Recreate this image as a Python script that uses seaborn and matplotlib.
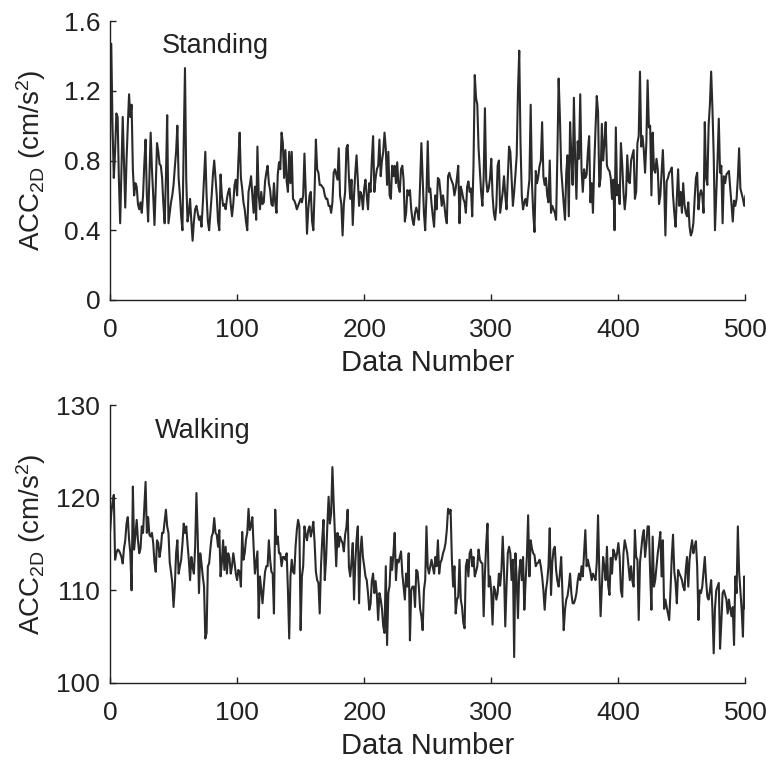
import numpy as np
import matplotlib
matplotlib.use("Agg")
import matplotlib.pyplot as plt
import seaborn as sns

# values, data number 0..500
standing_acc = [
    0.90, 1.47, 0.99, 0.70, 0.85, 1.07, 1.05, 0.69, 0.44, 0.75,
    1.05, 0.80, 0.53, 0.80, 1.00, 1.18, 1.05, 1.12, 0.75, 0.60,
    0.67, 0.65, 0.55, 0.52, 0.56, 0.50, 0.60, 0.78, 0.92, 0.60,
    0.45, 0.70, 0.96, 0.75, 0.60, 0.43, 0.65, 0.90, 0.85, 0.78,
    0.77, 0.70, 0.55, 0.44, 0.70, 1.06, 0.44, 0.50, 0.56, 0.60,
    0.66, 0.76, 0.85, 1.00, 0.70, 0.60, 0.48, 0.40, 0.90, 1.33,
    0.69, 0.45, 0.50, 0.58, 0.45, 0.34, 0.45, 0.52, 0.54, 0.50,
    0.46, 0.48, 0.42, 0.55, 0.70, 0.85, 0.60, 0.45, 0.40, 0.50,
    0.60, 0.72, 0.80, 0.70, 0.60, 0.45, 0.40, 0.72, 0.60, 0.54,
    0.55, 0.52, 0.58, 0.62, 0.64, 0.55, 0.48, 0.55, 0.66, 0.69,
    0.60, 0.80, 0.96, 0.70, 0.64, 0.56, 0.52, 0.45, 0.40, 0.62,
    0.66, 0.71, 0.60, 0.50, 0.65, 0.46, 0.88, 0.60, 0.52, 0.62,
    0.55, 0.56, 0.68, 0.73, 0.77, 0.67, 0.63, 0.55, 0.54, 0.67,
    0.56, 0.50, 0.72, 0.79, 0.75, 0.96, 0.90, 0.70, 0.86, 0.68,
    0.62, 0.85, 0.67, 0.85, 0.58, 0.57, 0.55, 0.52, 0.54, 0.56,
    0.58, 0.56, 0.60, 0.84, 0.62, 0.38, 0.52, 0.60, 0.62, 0.45,
    0.40, 0.63, 0.92, 0.75, 0.73, 0.66, 0.66, 0.65, 0.64, 0.60,
    0.58, 0.58, 0.54, 0.54, 0.50, 0.56, 0.73, 0.75, 0.72, 0.69,
    0.87, 0.60, 0.55, 0.37, 0.55, 0.62, 0.87, 0.89, 0.70, 0.58,
    0.69, 0.43, 0.60, 0.73, 0.83, 0.69, 0.54, 0.62, 0.60, 0.52,
    0.64, 0.69, 0.60, 0.52, 0.67, 0.62, 0.80, 0.94, 0.62, 0.70,
    0.75, 0.77, 0.92, 0.71, 0.80, 0.85, 0.96, 0.87, 0.66, 0.85,
    0.60, 0.58, 0.77, 0.71, 0.77, 0.67, 0.79, 0.65, 0.62, 0.75,
    0.77, 0.69, 0.45, 0.50, 0.63, 0.60, 0.63, 0.52, 0.46, 0.43,
    0.50, 0.53, 0.50, 0.46, 0.67, 0.90, 0.70, 0.50, 0.40, 0.60,
    0.91, 0.62, 0.64, 0.55, 0.48, 0.42, 0.60, 0.52, 0.70, 0.69,
    0.62, 0.54, 0.60, 0.55, 0.48, 0.44, 0.71, 0.73, 0.70, 0.68,
    0.66, 0.60, 0.64, 0.70, 0.77, 0.44, 0.65, 0.62, 0.58, 0.56,
    0.50, 0.65, 0.68, 0.62, 0.64, 0.48, 0.77, 1.29, 1.16, 1.12,
    0.87, 0.75, 0.62, 0.54, 0.70, 1.10, 0.69, 0.62, 0.64, 0.70,
    0.81, 0.60, 0.50, 0.46, 0.54, 0.77, 0.80, 0.50, 0.56, 0.62,
    0.71, 0.60, 0.52, 0.70, 0.88, 0.85, 0.70, 0.54, 0.62, 0.72,
    0.83, 1.20, 1.43, 0.90, 0.60, 0.52, 0.56, 0.58, 0.54, 0.62,
    0.69, 1.12, 0.67, 0.50, 0.39, 0.74, 0.67, 0.71, 0.77, 0.80,
    1.02, 0.71, 0.66, 0.70, 0.60, 0.56, 0.80, 0.50, 0.54, 0.52,
    0.50, 0.46, 0.83, 1.27, 1.05, 0.75, 0.65, 0.55, 0.46, 0.73,
    0.83, 0.48, 1.02, 0.83, 0.66, 1.16, 0.80, 0.58, 0.91, 0.81,
    1.18, 0.75, 0.62, 0.75, 0.70, 0.72, 0.85, 0.94, 0.56, 0.67,
    0.50, 0.77, 0.98, 1.17, 1.08, 0.65, 0.70, 1.01, 0.80, 0.90,
    1.02, 0.77, 0.75, 0.74, 0.70, 0.58, 0.69, 0.40, 0.99, 0.60,
    0.66, 0.55, 0.90, 0.78, 0.62, 0.52, 0.60, 0.83, 0.68, 0.67,
    0.80, 0.83, 0.86, 0.58, 0.62, 0.90, 0.94, 1.31, 0.88, 0.94,
    0.86, 0.73, 0.90, 1.26, 0.99, 1.00, 0.60, 0.96, 0.75, 0.73,
    0.81, 0.75, 0.55, 0.60, 0.73, 0.86, 0.67, 0.37, 0.68, 0.70,
    0.73, 0.74, 0.76, 0.60, 0.50, 0.42, 0.58, 0.75, 0.54, 0.62,
    0.50, 0.67, 0.55, 0.50, 0.48, 0.56, 0.42, 0.37, 0.39, 0.44,
    0.58, 0.70, 0.73, 0.52, 0.60, 0.63, 0.60, 0.50, 1.02, 0.70,
    0.66, 1.00, 1.12, 1.31, 1.10, 0.83, 0.40, 0.60, 0.80, 1.04,
    0.73, 0.77, 0.44, 0.71, 0.67, 0.72, 0.73, 0.74, 0.64, 0.55,
    0.45, 0.57, 0.54, 0.58, 0.70, 0.87, 0.64, 0.61, 0.58, 0.54, 0.60,
]

walking_acc = [
    116.2, 118.3, 119.5, 120.3, 113.3, 114.0, 114.4, 114.3, 114.0, 113.6,
    112.9, 114.5, 115.4, 117.2, 117.9, 115.5, 114.0, 110.0, 121.2, 114.4,
    116.0, 117.6, 115.4, 114.0, 114.5, 116.9, 116.2, 119.0, 121.7, 116.2,
    117.9, 116.0, 115.8, 116.2, 115.1, 113.0, 112.0, 115.4, 115.1, 113.6,
    114.5, 116.2, 116.2, 117.5, 118.7, 116.9, 116.2, 113.0, 112.0, 110.8,
    108.2, 110.4, 114.0, 115.4, 111.8, 112.6, 113.3, 115.0, 117.2, 116.2,
    116.9, 115.0, 113.3, 111.1, 113.6, 112.5, 111.8, 114.7, 120.5, 116.0,
    109.7, 114.0, 112.9, 111.5, 110.4, 104.8, 105.4, 112.6, 112.9, 114.5,
    115.8, 116.2, 117.8, 116.2, 116.0, 114.7, 116.5, 111.5, 113.0, 115.4,
    112.2, 114.7, 111.8, 114.0, 113.5, 111.8, 112.6, 114.0, 113.0, 111.8,
    111.1, 112.2, 112.0, 110.4, 116.3, 113.3, 114.0, 115.5, 116.2, 118.8,
    116.5, 117.0, 117.9, 114.7, 111.8, 113.0, 114.2, 107.0, 111.5, 110.0,
    108.6, 110.4, 112.0, 112.6, 112.6, 115.4, 113.3, 112.0, 111.8, 107.5,
    118.7, 115.0, 115.8, 114.0, 114.0, 112.6, 113.6, 113.6, 113.3, 114.0,
    110.0, 104.8, 111.5, 113.3, 112.0, 111.8, 114.7, 116.5, 117.6, 116.9,
    105.7, 111.5, 112.6, 116.9, 116.0, 115.4, 116.5, 116.9, 115.8, 116.5,
    117.4, 115.1, 112.0, 111.1, 110.8, 107.5, 112.6, 115.5, 117.6, 111.1,
    113.3, 117.0, 120.1, 117.2, 118.3, 123.3, 119.4, 116.0, 112.6, 116.2,
    114.7, 115.8, 115.4, 115.1, 114.2, 116.0, 116.8, 118.7, 112.5, 111.5,
    113.0, 115.1, 109.0, 113.0, 115.5, 116.9, 108.6, 114.0, 115.8, 113.6,
    112.6, 111.5, 111.1, 109.7, 107.9, 108.5, 111.0, 111.8, 109.7, 111.0,
    109.5, 106.8, 109.7, 109.0, 108.0, 106.1, 105.4, 112.6, 104.1, 109.7,
    110.5, 113.6, 112.2, 114.0, 116.2, 111.1, 113.3, 113.0, 113.6, 114.2,
    111.8, 110.4, 109.0, 111.8, 110.4, 114.0, 104.6, 110.0, 110.4, 110.4,
    108.2, 112.2, 112.0, 110.4, 108.0, 107.2, 105.7, 110.0, 111.1, 116.9,
    112.5, 111.8, 112.6, 113.3, 112.5, 111.8, 113.6, 112.6, 115.4, 111.8,
    113.0, 113.3, 114.0, 114.4, 115.1, 116.5, 118.8, 118.3, 118.7, 113.3,
    110.4, 112.6, 107.5, 109.0, 109.3, 113.3, 109.0, 108.2, 106.5, 105.9,
    112.6, 113.3, 111.5, 114.0, 114.4, 112.6, 113.6, 111.5, 112.0, 112.6,
    114.4, 113.3, 113.0, 112.9, 107.2, 111.8, 115.0, 117.2, 110.4, 111.5,
    109.7, 106.3, 110.4, 110.0, 109.0, 109.7, 111.8, 110.5, 112.2, 115.8,
    112.2, 106.1, 110.4, 114.0, 114.7, 114.0, 111.1, 113.3, 102.8, 114.0,
    111.1, 107.0, 112.0, 113.3, 111.1, 113.6, 107.9, 111.0, 113.6, 118.1,
    111.5, 115.4, 114.5, 114.0, 113.8, 112.6, 112.9, 113.0, 113.3, 112.6,
    111.5, 110.0, 107.9, 110.0, 111.0, 112.6, 116.7, 109.5, 113.0, 114.4,
    114.7, 112.2, 111.0, 110.4, 111.8, 113.6, 109.7, 105.7, 107.9, 109.0,
    109.4, 110.4, 111.8, 109.7, 108.6, 108.6, 109.0, 109.7, 111.0, 111.8,
    111.1, 112.6, 111.5, 114.0, 116.5, 112.6, 113.3, 112.6, 112.0, 111.1,
    111.8, 111.5, 111.1, 113.0, 118.1, 112.0, 107.2, 110.5, 113.6, 112.5,
    111.1, 114.7, 110.5, 109.5, 113.5, 111.8, 114.4, 114.0, 113.3, 114.0,
    115.1, 113.6, 110.0, 109.3, 114.0, 115.4, 114.7, 114.0, 112.6, 111.1,
    112.6, 111.0, 110.4, 116.5, 113.6, 113.3, 106.8, 113.0, 114.4, 115.8,
    116.5, 113.6, 115.0, 116.9, 116.9, 111.8, 107.9, 115.8, 110.4, 111.1,
    112.6, 114.0, 115.0, 116.3, 111.5, 115.4, 108.0, 109.0, 108.2, 107.5,
    106.8, 110.0, 113.6, 116.0, 112.0, 110.8, 108.6, 112.2, 111.8, 111.5,
    111.1, 110.4, 110.0, 112.2, 113.6, 110.4, 113.3, 114.5, 115.4, 114.0,
    114.7, 115.3, 112.6, 106.8, 110.0, 109.7, 110.4, 112.0, 113.6, 111.1,
    109.3, 109.0, 110.0, 111.1, 107.9, 103.2, 108.0, 110.0, 110.4, 110.8,
    103.7, 106.5, 109.7, 110.0, 109.5, 109.0, 107.5, 109.0, 108.0, 107.2,
    108.2, 104.1, 111.5, 109.7, 116.9, 112.0, 110.0, 107.9, 105.0, 111.5, 108.0,
]

data_number = np.arange(len(standing_acc))

x_ticks = [0, 100, 200, 300, 400, 500]
standing_ticks = [0, 0.4, 0.8, 1.2, 1.6]
standing_tick_labels = ['0', '0.4', '0.8', '1.2', '1.6']
walking_ticks = [100, 110, 120, 130]

sns.set_style("ticks")
plt.rcParams['font.family'] = ['Liberation Sans', 'DejaVu Sans']
plt.rcParams['mathtext.fontset'] = 'custom'
plt.rcParams['mathtext.rm'] = 'Liberation Sans'
plt.rcParams['mathtext.it'] = 'Liberation Sans:italic'
plt.rcParams['mathtext.default'] = 'regular'

line_color = '#2a2a2a'
text_color = '#222222'
ylabel = 'ACC$_{2D}$ (cm/s$^2$)'

fig = plt.figure(figsize=(7.66, 7.62), dpi=100)
ax_top = fig.add_axes([0.1436, 0.6063, 0.8296, 0.3661])
ax_bot = fig.add_axes([0.1436, 0.1037, 0.8296, 0.3648])

sns.lineplot(x=data_number, y=standing_acc, ax=ax_top, color=line_color, linewidth=1.5)
sns.lineplot(x=data_number, y=walking_acc, ax=ax_bot, color=line_color, linewidth=1.5)

ax_top.set_ylim(0, 1.6)
ax_top.set_yticks(standing_ticks)
ax_top.set_yticklabels(standing_tick_labels)
ax_bot.set_ylim(100, 130)
ax_bot.set_yticks(walking_ticks)

for ax in (ax_top, ax_bot):
    ax.set_xlim(0, 500)
    ax.set_xticks(x_ticks)
    ax.set_xlabel('Data Number', fontsize=21, labelpad=5, color=text_color)
    ax.set_ylabel(ylabel, fontsize=20, color=text_color)
    ax.yaxis.set_label_coords(-0.097, 0.5)
    ax.tick_params(direction='in', length=4, width=1, labelsize=19, colors=text_color)
    ax.tick_params(axis='x', pad=13)
    ax.tick_params(axis='y', pad=7)
    sns.despine(ax=ax)
    for side in ('left', 'bottom'):
        ax.spines[side].set_linewidth(1)
        ax.spines[side].set_color(text_color)

ax_top.text(41, 1.455, 'Standing', fontsize=19.5, va='center', ha='left', color=text_color)
ax_bot.text(35.5, 127.2, 'Walking', fontsize=19.5, va='center', ha='left', color=text_color)

fig.savefig('out.png', dpi=100)
plt.close(fig)
